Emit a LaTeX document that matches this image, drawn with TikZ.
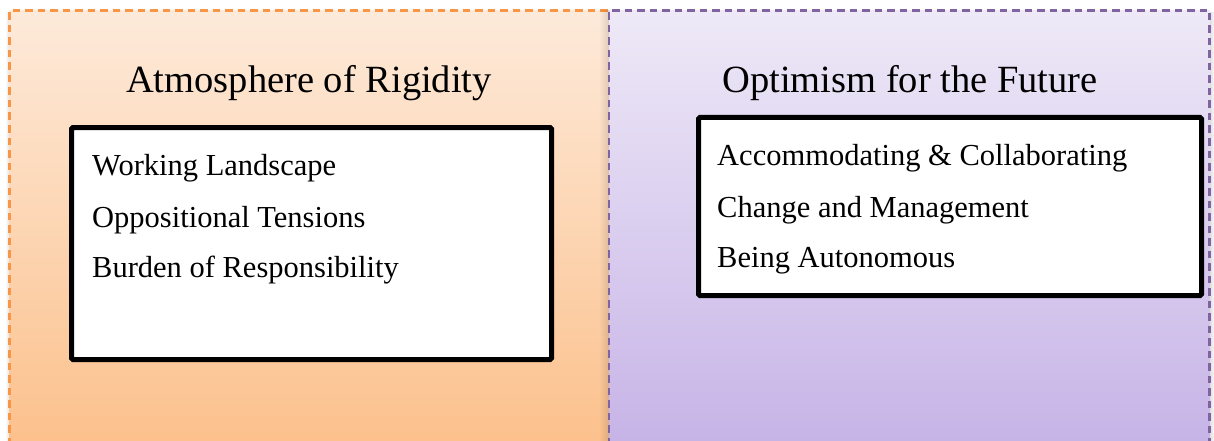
\documentclass[tikz,border=0pt]{standalone}
\usepackage{fontspec}
\setmainfont{Liberation Serif}
\definecolor{orTop}{RGB}{253,234,218}
\definecolor{orBot}{RGB}{252,193,141}
\definecolor{orLine}{RGB}{247,150,70}
\definecolor{puTop}{RGB}{238,233,247}
\definecolor{puBot}{RGB}{199,180,231}
\definecolor{puLine}{RGB}{128,100,162}
\begin{document}
\begin{tikzpicture}[x=1pt,y=-1pt,
  panelborder/.style={line width=2.6pt, dash pattern=on 7.5pt off 5pt},
  listbox/.style={draw=black, line width=5pt, fill=white, rounded corners=1.5pt},
  titletext/.style={font=\fontsize{38.5}{46}\selectfont, anchor=base, inner sep=0pt},
  itemtext/.style={font=\fontsize{30.5}{36}\selectfont, anchor=base west, inner sep=0pt}]
\useasboundingbox (0,0) rectangle (1214,441);
\clip (0,0) rectangle (1214,441);
% outer soft shadows
\foreach \i in {0,...,4} \fill[black, opacity=0.025*\i] (4.5+\i,12) rectangle (5.5+\i,441);
\foreach \i in {0,...,4} \fill[black, opacity=0.025*(5-\i)] (1209.5+\i,12) rectangle (1210.5+\i,441);
% left panel
\shade[top color=orTop, bottom color=orBot] (9.5,10.5) rectangle (620,441);
\draw[orLine, panelborder] (9.5,470) -- (9.5,10.5) -- (609,10.5);
% shadow of right panel on left panel
\foreach \i in {0,...,9} \fill[black, opacity=0.012*\i] (599+\i,10.5) rectangle (600+\i,441);
% right panel
\shade[top color=puTop, bottom color=puBot] (609,10.5) rectangle (1209.5,441);
\draw[puLine, panelborder] (609,470) -- (609,10.5) -- (1209.5,10.5) -- (1209.5,470);
% titles
\node[titletext] (titleL) at (309,93) {Atmosphere of Rigidity};
\node[titletext] (titleR) at (910,93) {Optimism for the Future};
% list boxes
\draw[listbox] (71.5,127.5) rectangle (551.5,359.5);
\draw[listbox] (698.5,117.5) rectangle (1201.5,295.5);
% left items
\node[itemtext] (l1) at (92,175) {Working Landscape};
\node[itemtext] (l2) at (92,227) {Oppositional Tensions};
\node[itemtext] (l3) at (92,277) {Burden of Responsibility};
% right items
\node[itemtext] (r1) at (717,165) {Accommodating \& Collaborating};
\node[itemtext] (r2) at (717,217) {Change and Management};
\node[itemtext] (r3) at (717,267) {Being Autonomous};
\end{tikzpicture}
\end{document}
